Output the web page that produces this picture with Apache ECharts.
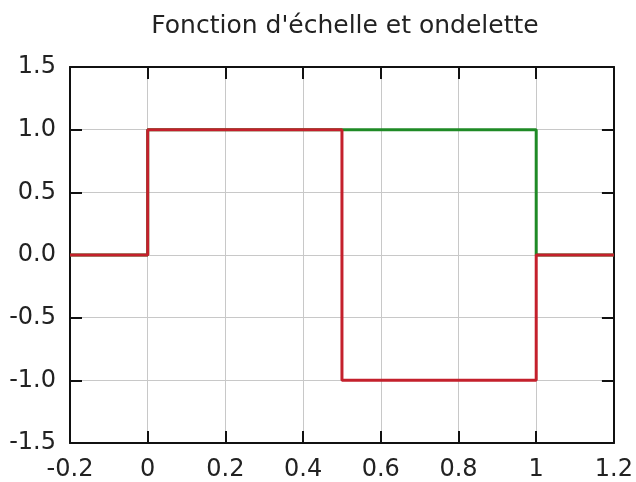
<!DOCTYPE html>
<html>
<head>
<meta charset="utf-8">
<script src="https://cdn.jsdelivr.net/npm/echarts@6/dist/echarts.min.js"></script>
<style>
    html, body { margin: 0; padding: 0; background: #fff; }
    #container { width: 636px; height: 482px; }
</style>
</head>
<body>
<div id="container"></div>
<script>
// fonction d'échelle (vert) et ondelette (rouge), points des marches
var scaleX = [-0.2, 0, 0, 1, 1, 1.2]
var scaleY = [0, 0, 1, 1, 0, 0]
var waveX = [-0.2, 0, 0, 0.5, 0.5, 1, 1, 1.2]
var waveY = [0, 0, 1, 1, -1, -1, 0, 0]

var pairs = function (xs, ys) {
    var res = []
    for (var i = 0; i < xs.length; i++) {
        res.push([xs[i], ys[i]])
    }
    return res
}

var font = 'DejaVu Sans'
var black = '#111'

// les 4 côtés du cadre, ticks vers l'intérieur
var frameAxis = function (extra) {
    var a = {
        type: 'value',
        axisLine: { show: true, onZero: false, lineStyle: { color: black, width: 2 } },
        axisTick: { show: true, inside: true, length: 12, lineStyle: { color: black, width: 2 } },
        axisLabel: { show: false },
        splitLine: { show: false },
    }
    return Object.assign(a, extra)
}

var chart = echarts.init(document.getElementById('container'), null, { renderer: 'canvas' })

var option = {
    animation: false,
    backgroundColor: '#fff',
    title: {
        text: "Fonction d'échelle et ondelette",
        left: 340,
        textAlign: 'center',
        top: 9,
        textStyle: { fontFamily: font, fontSize: 25, fontWeight: 'normal', color: '#222' },
    },
    grid: { left: 70, right: 22, top: 67, bottom: 39 },
    xAxis: [
        frameAxis({
            min: -0.2, max: 1.2, interval: 0.2, position: 'bottom',
            axisLabel: { show: true, fontFamily: font, fontSize: 24, color: '#222', margin: 15 },
            splitLine: { show: true, lineStyle: { color: '#c8c8c8', width: 1 } },
        }),
        frameAxis({ min: -0.2, max: 1.2, interval: 0.2, position: 'top' }),
    ],
    yAxis: [
        frameAxis({
            min: -1.5, max: 1.5, interval: 0.5, position: 'left',
            axisLabel: {
                show: true, fontFamily: font, fontSize: 24, color: '#222', margin: 14,
                formatter: function (v) { return v.toFixed(1) },
            },
            splitLine: { show: true, lineStyle: { color: '#c8c8c8', width: 1 } },
        }),
        frameAxis({ min: -1.5, max: 1.5, interval: 0.5, position: 'right' }),
    ],
    series: [
        {
            name: 'phi',
            type: 'line',
            data: pairs(scaleX, scaleY),
            symbol: 'none',
            lineStyle: { color: '#1f8a26', width: 3 },
            z: 2,
        },
        {
            name: 'psi',
            type: 'line',
            data: pairs(waveX, waveY),
            symbol: 'none',
            lineStyle: { color: '#c4202c', width: 3 },
            z: 3,
        },
    ],
}

chart.setOption(option)
</script>
</body>
</html>
